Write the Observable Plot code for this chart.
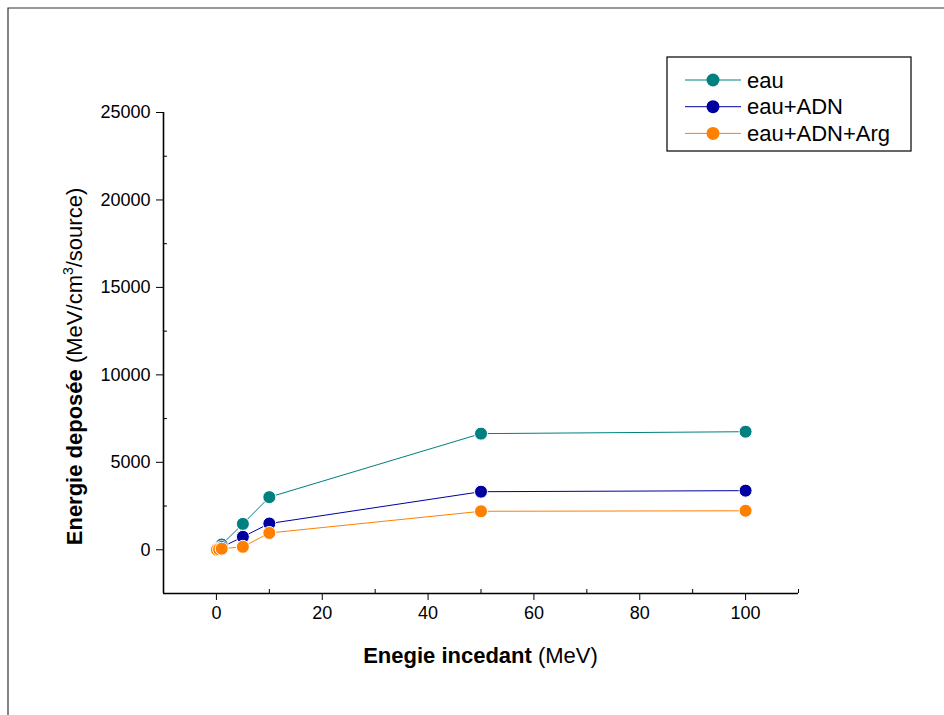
<!DOCTYPE html>
<html>
<head>
<meta charset="utf-8">
<script src="https://cdn.jsdelivr.net/npm/d3@7"></script>
<script src="https://cdn.jsdelivr.net/npm/@observablehq/plot@0.6"></script>
<style>
  html, body { margin: 0; padding: 0; background: #fff; }
  #chart { width: 944px; height: 715px; }
  svg { font-family: "Liberation Sans", Arial, sans-serif; }
</style>
</head>
<body>
<div id="chart"></div>
<script>
// ---- data ----
const energies = [0.1, 0.5, 1, 5, 10, 50, 100];
const eau = [30, 150, 300, 1480, 3010, 6640, 6750];
const eauADN = [15, 75, 150, 740, 1500, 3320, 3380];
const eauADNArg = [5, 25, 60, 170, 960, 2200, 2230];
const seriesNames = ["eau", "eau+ADN", "eau+ADN+Arg"];
const seriesColors = ["#008080", "#0000A0", "#FF8000"];
const xTicks = [0, 20, 40, 60, 80, 100];
const xMinorTicks = [-10, 10, 30, 50, 70, 90, 110];
const yTicks = [0, 5000, 10000, 15000, 20000, 25000];
const yMinorTicks = [-2500, 2500, 7500, 12500, 17500, 22500];
const xDomain = [-10, 110];
const yDomain = [-2500, 25000];

const seriesValues = [eau, eauADN, eauADNArg];
const data = [];
seriesNames.forEach((name, i) => {
  energies.forEach((e, j) => data.push({series: name, x: e, y: seriesValues[i][j]}));
});

const W = 944, H = 715;
const mL = 163, mR = 146, mT = 112, mB = 122;

const plot = Plot.plot({
  width: W,
  height: H,
  marginLeft: mL,
  marginRight: mR,
  marginTop: mT,
  marginBottom: mB,
  style: {fontFamily: "Liberation Sans, Arial, sans-serif", fontSize: "18px", color: "#000", background: "#fff", overflow: "visible"},
  x: {domain: xDomain, label: null},
  y: {domain: yDomain, label: null},
  color: {domain: seriesNames, range: seriesColors},
  marks: [
    Plot.axisX({ticks: xTicks, tickSize: 7, tickPadding: 6, tickFormat: d => String(d), fontSize: 18, label: null}),
    Plot.axisX({ticks: xMinorTicks, tickSize: -4, text: null, label: null}),
    Plot.axisY({ticks: yTicks, tickSize: 7, tickPadding: 6, tickFormat: d => String(d), fontSize: 18, label: null}),
    Plot.axisY({ticks: yMinorTicks, tickSize: -4, text: null, label: null}),
    Plot.ruleX([xDomain[0]], {y1: yDomain[0], y2: yDomain[1], stroke: "#000", strokeWidth: 1.6}),
    Plot.ruleY([yDomain[0]], {x1: xDomain[0], x2: xDomain[1], stroke: "#000", strokeWidth: 1.6}),
    Plot.line(data, {x: "x", y: "y", z: "series", stroke: "series", strokeWidth: 1}),
    Plot.dot(data, {x: "x", y: "y", fill: "series", r: 6.5, stroke: "#fff", strokeWidth: 1})
  ]
});
document.getElementById("chart").appendChild(plot);

const svg = d3.select(plot);
// outer frame (top and left edges visible)
svg.append("path").attr("d", `M8,${H} V8 H${W}`).attr("fill", "none").attr("stroke", "#333").attr("stroke-width", 1.2);

// x axis title
const xt = svg.append("text")
  .attr("x", (mL + (W - mR)) / 2).attr("y", 663)
  .attr("text-anchor", "middle").attr("font-size", 22).attr("fill", "#000");
xt.append("tspan").attr("font-weight", "bold").text("Enegie incedant");
xt.append("tspan").text(" (MeV)");

// y axis title
const yt = svg.append("text")
  .attr("transform", `translate(82,${(mT + (H - mB)) / 2 + 14}) rotate(-90)`)
  .attr("text-anchor", "middle").attr("font-size", 22).attr("fill", "#000");
yt.append("tspan").attr("font-weight", "bold").text("Energie deposée");
yt.append("tspan").text(" (MeV/cm");
yt.append("tspan").attr("font-size", 14).attr("dy", -9).text("3");
yt.append("tspan").attr("dy", 9).text("/source)");

// legend
const lg = svg.append("g").attr("text-anchor", "start");
lg.append("rect").attr("x", 667).attr("y", 57).attr("width", 244).attr("height", 94)
  .attr("fill", "#fff").attr("stroke", "#000").attr("stroke-width", 1.2);
seriesNames.forEach((name, i) => {
  const cy = 80 + i * 26.7;
  lg.append("line").attr("x1", 685).attr("x2", 741).attr("y1", cy).attr("y2", cy)
    .attr("stroke", seriesColors[i]).attr("stroke-width", 1);
  lg.append("circle").attr("cx", 713).attr("cy", cy).attr("r", 6.5).attr("fill", seriesColors[i]);
  lg.append("text").attr("x", 747).attr("y", cy).attr("dy", "0.35em")
    .attr("text-anchor", "start").attr("font-size", 22).attr("fill", "#000").text(name);
});
</script>
</body>
</html>
